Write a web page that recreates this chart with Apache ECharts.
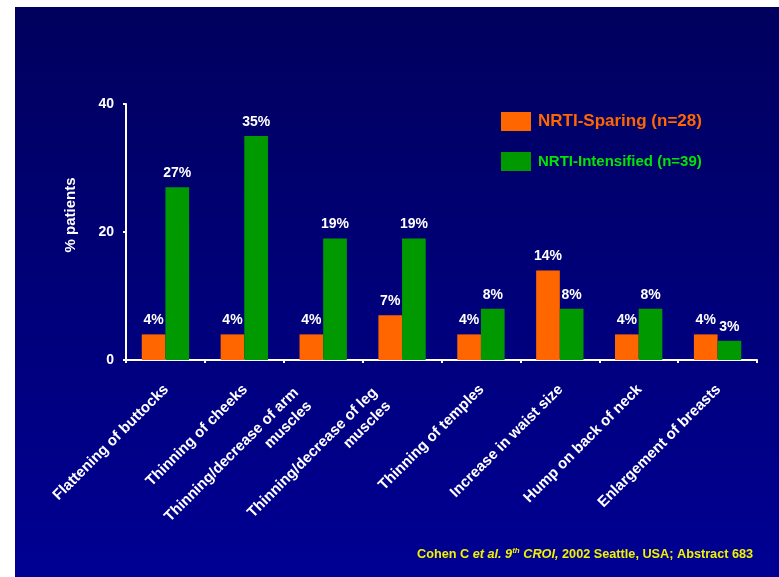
<!DOCTYPE html>
<html>
<head>
<meta charset="utf-8">
<script src="https://cdn.jsdelivr.net/npm/echarts@6/dist/echarts.min.js"></script>
<style>html,body{margin:0;padding:0;background:#fff;}#c{width:779px;height:577px;}</style>
</head>
<body>
<div id="c"></div>
<script>
var categories = ['Flattening of buttocks', 'Thinning of cheeks', 'Thinning/decrease of arm\nmuscles', 'Thinning/decrease of leg\nmuscles', 'Thinning of temples', 'Increase in waist size', 'Hump on back of neck', 'Enlargement of breasts'];
var sparing = [4, 4, 4, 7, 4, 14, 4, 4];
var intensified = [27, 35, 19, 19, 8, 8, 8, 3];
var seriesNames = ['NRTI-Sparing (n=28)', 'NRTI-Intensified (n=39)'];
var yTicks = [0, 20, 40];

var FONT = '"Liberation Sans", Arial, sans-serif';
var chart = echarts.init(document.getElementById('c'));
chart.setOption({
  backgroundColor: '#ffffff',
  textStyle: { fontFamily: FONT },
  graphic: [
    { type: 'rect', z: -10, silent: true, shape: { x: 15, y: 7, width: 764, height: 570 },
      style: { fill: new echarts.graphic.LinearGradient(0, 0, 0, 1, [
        { offset: 0, color: '#00005e' }, { offset: 1, color: '#000093' }]) } },
    { type: 'text', left: 417, top: 547, z: 10,
      style: {
        text: '{n|Cohen C }{i|et al. 9}{s|th}{i| CROI,}{n| 2002 Seattle, USA; Abstract 683}',
        rich: {
          n: { fill: '#f2f200', fontWeight: 'bold', fontSize: 12.7, fontFamily: FONT },
          i: { fill: '#f2f200', fontWeight: 'bold', fontStyle: 'italic', fontSize: 12.7, fontFamily: FONT },
          s: { fill: '#f2f200', fontWeight: 'bold', fontStyle: 'italic', fontSize: 8, fontFamily: FONT, verticalAlign: 'top', padding: [0, 0, 7, 0] }
        }
      } }
  ],
  legend: {
    orient: 'vertical', left: 501, top: 112, itemWidth: 30, itemHeight: 19, itemGap: 21,
    padding: 0, icon: 'rect',
    data: [
      { name: seriesNames[0], textStyle: { color: '#ff6600', fontSize: 17 } },
      { name: seriesNames[1], textStyle: { color: '#00e600', fontSize: 15 } }
    ],
    textStyle: { fontSize: 17, fontWeight: 'bold', fontFamily: FONT, padding: [0, 0, 0, 2] }
  },
  grid: { left: 126, right: 22, top: 104, bottom: 217, containLabel: false },
  xAxis: {
    type: 'category', data: categories,
    axisLine: { lineStyle: { color: '#ffffff', width: 2 } },
    axisTick: { show: true, alignWithLabel: false, length: 3, lineStyle: { color: '#ffffff', width: 2 } },
    axisLabel: {
      interval: 0, rotate: 45, margin: 22, padding: [8.5, 3, 0, 0],
      formatter: function (v) {
        var lines = v.split('\n');
        if (lines.length === 1) return '{m|' + v + '}';
        return lines.map(function (l) { return '{m|' + l + '}{sp| }'; }).join('\n') + '\n{h| }';
      },
      rich: {
        m: { color: '#ffffff', fontWeight: 'bold', fontSize: 15, fontFamily: FONT, lineHeight: 19 },
        sp: { width: 22, fontSize: 1, lineHeight: 19 },
        h: { fontSize: 1, lineHeight: 16, height: 16 }
      }
    }
  },
  yAxis: {
    type: 'value', min: 0, max: 40, interval: 20,
    name: '% patients', nameLocation: 'middle', nameGap: 48, nameRotate: 90,
    nameTextStyle: { color: '#ffffff', fontWeight: 'bold', fontSize: 15, fontFamily: FONT, padding: [0, 0, 0, 34] },
    axisLine: { show: true, lineStyle: { color: '#ffffff', width: 2 } },
    axisTick: { show: true, length: 3, lineStyle: { color: '#ffffff', width: 2 } },
    splitLine: { show: false },
    axisLabel: { color: '#ffffff', fontWeight: 'bold', fontSize: 14, fontFamily: FONT, margin: 12, padding: [0, 0, 6, 0],
      formatter: function (v) { return yTicks.indexOf(v) >= 0 ? String(v) : ''; } }
  },
  series: [
    { name: seriesNames[0], type: 'bar', data: sparing, barGap: '0%', barCategoryGap: '40%',
      itemStyle: { color: '#ff6600' },
      label: { show: true, position: 'top', distance: 7, formatter: '{c}%', color: '#ffffff', fontWeight: 'bold', fontSize: 14, fontFamily: FONT } },
    { name: seriesNames[1], type: 'bar', data: intensified, barGap: '0%', barCategoryGap: '40%',
      itemStyle: { color: '#009900' },
      label: { show: true, position: 'top', distance: 7, formatter: '{c}%', color: '#ffffff', fontWeight: 'bold', fontSize: 14, fontFamily: FONT } }
  ]
});
</script>
</body>
</html>
